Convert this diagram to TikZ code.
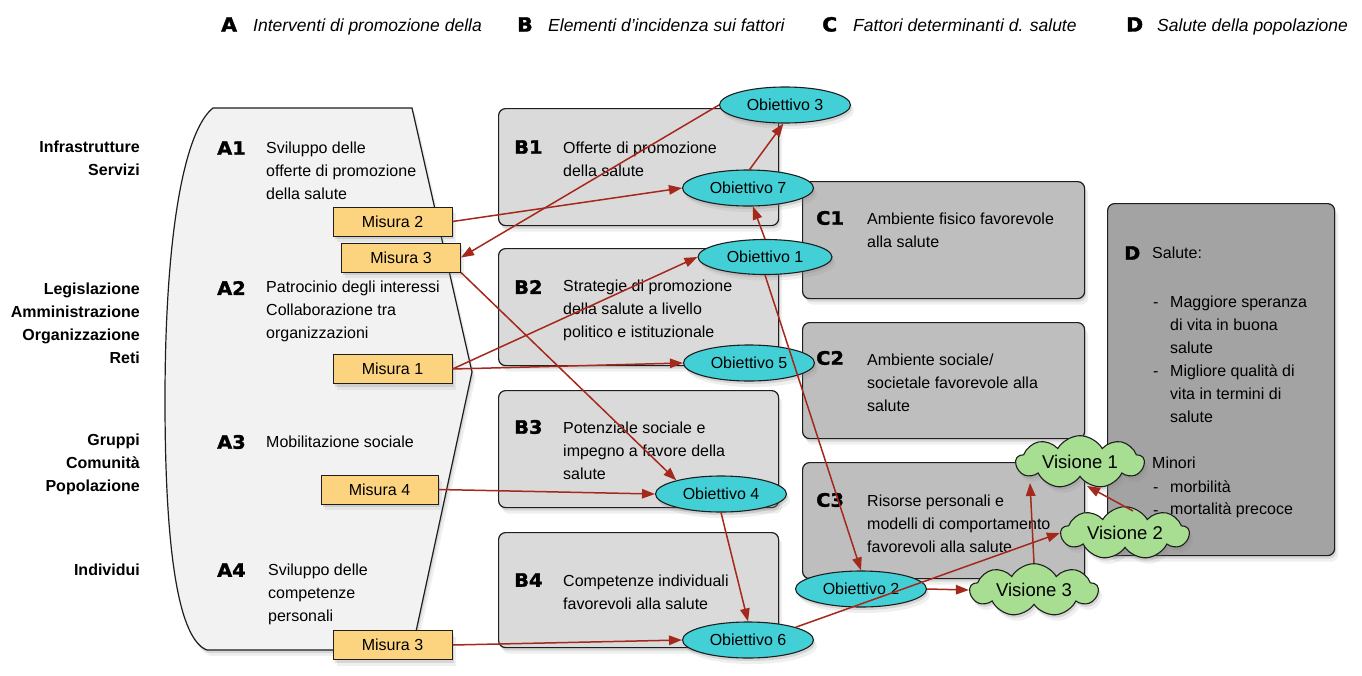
\documentclass[tikz,border=0pt]{standalone}
\usepackage{fontspec}
\setmainfont{Liberation Sans}
\newfontfamily\heavy{DejaVu Sans}[FakeStretch=1.05, FakeBold=1.6]
\usetikzlibrary{shapes.geometric,shapes.symbols,shadows,arrows.meta,calc}
\definecolor{misfill}{RGB}{252,212,128}
\definecolor{objfill}{RGB}{66,208,214}
\definecolor{visfill}{RGB}{168,222,145}
\definecolor{afill}{RGB}{242,242,242}
\definecolor{bfill}{RGB}{218,218,218}
\definecolor{cfill}{RGB}{190,190,190}
\definecolor{dfill}{RGB}{163,163,163}
\definecolor{arrred}{RGB}{165,40,28}
\definecolor{edge}{RGB}{30,30,30}
\begin{document}
\begin{tikzpicture}[x=1pt,y=-1pt,
  shad/.style={drop shadow={opacity=0.12,shadow xshift=3.5pt,shadow yshift=-6pt},
               drop shadow={opacity=0.22,shadow xshift=1.5pt,shadow yshift=-3pt}},
  body/.style={font=\fontsize{16}{23}\selectfont, inner sep=0pt, align=left, text=black},
  side/.style={font=\fontsize{16}{23}\selectfont\bfseries, inner sep=0pt, align=right, anchor=east},
  hdr/.style={font=\fontsize{17.5}{20}\selectfont\itshape, inner sep=0pt, anchor=base west},
  hdrletter/.style={font=\fontsize{19.5}{20}\heavy\bfseries, inner sep=0pt, anchor=base west},
  tag/.style={font=\fontsize{18.5}{20}\heavy\bfseries, inner sep=0pt, anchor=west},
  bullet/.style={font=\fontsize{16}{23}\selectfont, inner sep=0pt, anchor=base west},
  box/.style={draw=edge, line width=1.2pt, rounded corners=7pt, anchor=north west, shad},
  mis/.style={draw=edge, line width=1pt, fill=misfill, font=\fontsize{16}{18}\selectfont, minimum width=119pt, minimum height=29pt, inner sep=0pt, shad},
  obj/.style={ellipse, draw=edge, line width=1.1pt, fill=objfill, font=\fontsize{16}{18}\selectfont, minimum width=131pt, minimum height=36pt, inner sep=0pt, shad},
  vis/.style={cloud, cloud puffs=9, cloud puff arc=120, aspect=3.2, draw=edge, line width=1.1pt, fill=visfill, font=\fontsize{18.5}{20}\selectfont, minimum width=128pt, minimum height=40pt, inner sep=0pt, shad},
  arr/.style={draw=arrred, line width=1.5pt, -{Triangle[length=13pt,width=9.5pt]}},
]
\useasboundingbox (0,0) rectangle (1362,675);
\fill[white] (0,0) rectangle (1362,675);

% headers
\node[hdrletter] (hA) at (221,31.5) {A};
\node[hdr] (hAt) at (253,31.5) {Interventi di promozione della};
\node[hdrletter] (hB) at (517,31.5) {B};
\node[hdr] (hBt) at (548,31.5) {Elementi d’incidenza sui fattori};
\node[hdrletter] (hC) at (822,31.5) {C};
\node[hdr] (hCt) at (853,31.5) {Fattori determinanti d. salute};
\node[hdrletter] (hD) at (1126,31.5) {D};
\node[hdr] (hDt) at (1157,31.5) {Salute della popolazione};

% side labels
\node[side] (L1) at (140,158.5) {Infrastrutture\\Servizi};
\node[side] (L2) at (140,323) {Legislazione\\Amministrazione\\Organizzazione\\Reti};
\node[side] (L3) at (140,464.5) {Gruppi\\Comunità\\Popolazione};
\node[side] (L4) at (140,570) {Individui};

% A shape
\draw[draw=edge, line width=1.2pt, fill=afill, shad]
  (213,108) -- (412,108) -- (472,372) -- (412,650) -- (207,650)
  .. controls (180,640) and (165,560) .. (165,400)
  .. controls (165,230) and (185,130) .. (213,108) -- cycle;

\node[tag] (A1) at (217,148) {A1};
\node[body, anchor=west] (A1t) at (266,171) {Sviluppo delle\\offerte di promozione\\della salute};
\node[tag] (A2) at (217,288) {A2};
\node[body, anchor=west] (A2t) at (266,311) {Patrocinio degli interessi\\Collaborazione tra\\organizzazioni};
\node[tag] (A3) at (217,442) {A3};
\node[body, anchor=west] (A3t) at (266,442) {Mobilitazione sociale};
\node[tag] (A4) at (217,570) {A4};
\node[body, anchor=west] (A4t) at (268,594) {Sviluppo delle\\competenze\\personali};

% Misure
\node[mis] (m2) at (392.5,221.5) {Misura 2};
\node[mis] (m3a) at (401,257.5) {Misura 3};
\node[mis] (m1) at (392.5,369) {Misura 1};
\node[mis, minimum width=117pt] (m4) at (379.5,489.5) {Misura 4};
\node[mis] (m3b) at (392.5,645) {Misura 3};

% B boxes
\node[box, fill=bfill, minimum width=280pt, minimum height=117pt] (B1) at (498,108) {};
\node[box, fill=bfill, minimum width=280pt, minimum height=117pt] (B2) at (498,248) {};
\node[box, fill=bfill, minimum width=280pt, minimum height=117pt] (B3) at (498,390) {};
\node[box, fill=bfill, minimum width=280pt, minimum height=115pt] (B4) at (498,532) {};
\node[tag] (B1l) at (514,147) {B1};
\node[body, anchor=west] (B1t) at (563,159.5) {Offerte di promozione\\della salute};
\node[tag] (B2l) at (514,287) {B2};
\node[body, anchor=west] (B2t) at (563,310) {Strategie di promozione\\della salute a livello\\politico e istituzionale};
\node[tag] (B3l) at (514,427) {B3};
\node[body, anchor=west] (B3t) at (563,451) {Potenziale sociale e\\impegno a favore della\\salute};
\node[tag] (B4l) at (514,580) {B4};
\node[body, anchor=west] (B4t) at (563,592) {Competenze individuali\\favorevoli alla salute};

% C boxes
\node[box, fill=cfill, minimum width=282pt, minimum height=117pt] (C1) at (802,181) {};
\node[box, fill=cfill, minimum width=282pt, minimum height=116pt] (C2) at (802,322) {};
\node[box, fill=cfill, minimum width=282pt, minimum height=116pt] (C3) at (802,462) {};
\node[tag] (C1l) at (816,218) {C1};
\node[body, anchor=west] (C1t) at (867,230.5) {Ambiente fisico favorevole\\alla salute};
\node[tag] (C2l) at (816,358) {C2};
\node[body, anchor=west] (C2t) at (867,382.5) {Ambiente sociale/\\societale favorevole alla\\salute};
\node[tag] (C3l) at (816,500) {C3};
\node[body, anchor=west] (C3t) at (867,524) {Risorse personali e\\modelli di comportamento\\favorevoli alla salute};

% D box
\node[box, fill=dfill, minimum width=227pt, minimum height=352pt] (Dbox) at (1107,203) {};
\node[tag] (Dl) at (1124,253) {D};
\node[body, anchor=west] (Ds) at (1152,253) {Salute:};
\node[bullet] (Dd1) at (1153,307.5) {-};
\node[body, anchor=west] (Di1) at (1170,325) {Maggiore speranza\\di vita in buona\\salute};
\node[bullet] (Dd2) at (1153,376.5) {-};
\node[body, anchor=west] (Di2) at (1170,394) {Migliore qualità di\\vita in termini di\\salute};
\node[body, anchor=west] (Dm) at (1152,463) {Minori};
\node[bullet] (Dd3) at (1153,492.5) {-};
\node[body, anchor=west] (Di3) at (1170,487) {morbilità};
\node[bullet] (Dd4) at (1153,515.5) {-};
\node[body, anchor=west] (Di4) at (1170,510) {mortalità precoce};

% Obiettivi
\node[obj] (o3) at (785,105) {Obiettivo 3};
\node[obj] (o7) at (748,188) {Obiettivo 7};
\node[obj, minimum width=134pt, minimum height=35pt] (o1) at (765,257) {Obiettivo 1};
\node[obj] (o5) at (749,363) {Obiettivo 5};
\node[obj] (o4) at (721,494) {Obiettivo 4};
\node[obj] (o6) at (748,640) {Obiettivo 6};
\node[obj] (o2) at (861,589) {Obiettivo 2};

% Visioni
\node[vis] (v1) at (1080,462) {Visione 1};
\node[vis] (v2) at (1125,533) {Visione 2};
\node[vis, minimum height=44pt] (v3) at (1034,590) {Visione 3};

% arrows
\draw[arr] (m2.east) -- (o7.west);
\draw[arr] (o3.west) -- (m3a.east);
\draw[arr] (m3a.south east) -- (o4.163);
\draw[arr] (m1.east) -- (o1.west);
\draw[arr] (m1.east) -- (o5.west);
\draw[arr] (m4.east) -- (o4.west);
\draw[arr] (m3b.east) -- (o6.west);
\draw[arr] (o7.85) -- (o3.265);
\draw[arr] (o1.north) -- (o7.-75);
\draw[arr] (o1.south) -- (o2.north);
\draw[arr] (o4.south) -- (o6.north);
\draw[arr] (o6.15) -- (v2.west);
\draw[arr] (o2.east) -- (v3.west);
\draw[arr] (v3.north) -- ($(v1.center)+(-50,21)$);
\draw[arr] ($(v2.center)+(8,-22)$) -- ($(v1.center)+(7,24)$);
\end{tikzpicture}
\end{document}
